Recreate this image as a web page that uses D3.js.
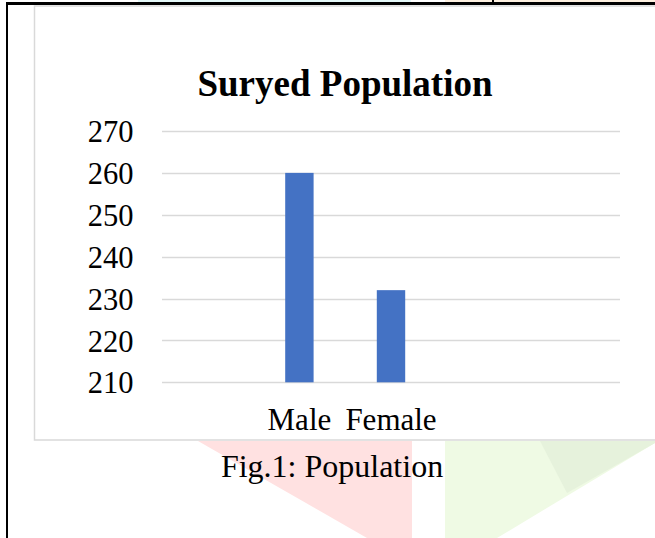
<!DOCTYPE html>
<html>
<head>
<meta charset="utf-8">
<script src="https://cdn.jsdelivr.net/npm/d3@7"></script>
<style>
  html, body { margin: 0; padding: 0; background: #ffffff; }
  svg { display: block; }
  text { font-family: "Liberation Serif", "Times New Roman", serif; fill: #000; }
</style>
</head>
<body>
<svg id="chart" width="655" height="538"></svg>
<script>
// ---- data ----
const categories = ["", "Male", "Female", "", ""];
const values = [null, 260, 232, null, null];
const yTicks = [210, 220, 230, 240, 250, 260, 270];
const title = "Suryed Population";
const caption = "Fig.1: Population";

const svg = d3.select("#chart");

// ---- page decoration (document background) ----
const deco = svg.append("g");
deco.append("rect").attr("x", 138).attr("y", 0).attr("width", 273).attr("height", 2).attr("fill", "#e4f8f8");
deco.append("rect").attr("x", 445).attr("y", 0).attr("width", 210).attr("height", 2).attr("fill", "#fdf0e0");
deco.append("polygon").attr("points", "198,441 412,441 412,538 367,538").attr("fill", "#ffe1e1");
deco.append("polygon").attr("points", "445,441 655,441 655,443 497,538 445,538").attr("fill", "#effae4");
deco.append("polygon").attr("points", "540,441 655,441 655,443 567,493").attr("fill", "#e6f2dc");
// black page borders
deco.append("rect").attr("x", 6).attr("y", 2).attr("width", 649).attr("height", 3).attr("fill", "#000");
deco.append("rect").attr("x", 6).attr("y", 2).attr("width", 2).attr("height", 536).attr("fill", "#000");
deco.append("rect").attr("x", 492).attr("y", 0).attr("width", 2).attr("height", 3).attr("fill", "#000");

// ---- chart box ----
svg.append("rect")
  .attr("x", 34.5).attr("y", 6).attr("width", 640).attr("height", 434)
  .attr("fill", "#ffffff").attr("stroke", "#d9d9d9").attr("stroke-width", 1.5);

// ---- scales ----
const x = d3.scaleBand()
  .domain(d3.range(categories.length))
  .range([162, 620])
  .paddingInner(0.69)
  .paddingOuter(0.345);

const y = d3.scaleLinear()
  .domain([d3.min(yTicks), d3.max(yTicks)])
  .range([382.3, 131]);

// ---- gridlines ----
svg.append("g")
  .selectAll("line")
  .data(yTicks)
  .join("line")
  .attr("x1", 162).attr("x2", 620)
  .attr("y1", d => Math.round(y(d)) + 0.5)
  .attr("y2", d => Math.round(y(d)) + 0.5)
  .attr("stroke", "#d9d9d9").attr("stroke-width", 1.6);

// ---- bars ----
svg.append("g")
  .selectAll("rect")
  .data(values.map((v, i) => ({ i, v })).filter(d => d.v != null))
  .join("rect")
  .attr("x", d => x(d.i))
  .attr("width", x.bandwidth())
  .attr("y", d => y(d.v))
  .attr("height", d => y(210) - y(d.v))
  .attr("fill", "#4472c4");

// ---- y axis ----
const yAxis = svg.append("g")
  .attr("transform", "translate(133.5,0)")
  .call(d3.axisLeft(y).tickValues(yTicks).tickSize(0).tickPadding(0));
yAxis.select(".domain").remove();
yAxis.selectAll("text")
  .attr("font-family", "Liberation Serif, Times New Roman, serif")
  .attr("font-size", 30.5)
  .attr("fill", "#000")
  .attr("dy", "0.35em");

// ---- x axis ----
const xAxis = svg.append("g")
  .attr("transform", "translate(0,382)")
  .call(d3.axisBottom(x).tickFormat(i => categories[i]).tickSize(0).tickPadding(0));
xAxis.select(".domain").remove();
xAxis.selectAll("text")
  .attr("font-family", "Liberation Serif, Times New Roman, serif")
  .attr("font-size", 31)
  .attr("fill", "#000")
  .attr("dy", null)
  .attr("y", 48);

// ---- title ----
svg.append("text")
  .attr("x", 345).attr("y", 96)
  .attr("text-anchor", "middle")
  .attr("font-size", 37).attr("font-weight", "bold")
  .text(title);

// ---- caption ----
svg.append("text")
  .attr("x", 332).attr("y", 477)
  .attr("text-anchor", "middle")
  .attr("font-size", 32)
  .text(caption);
</script>
</body>
</html>
